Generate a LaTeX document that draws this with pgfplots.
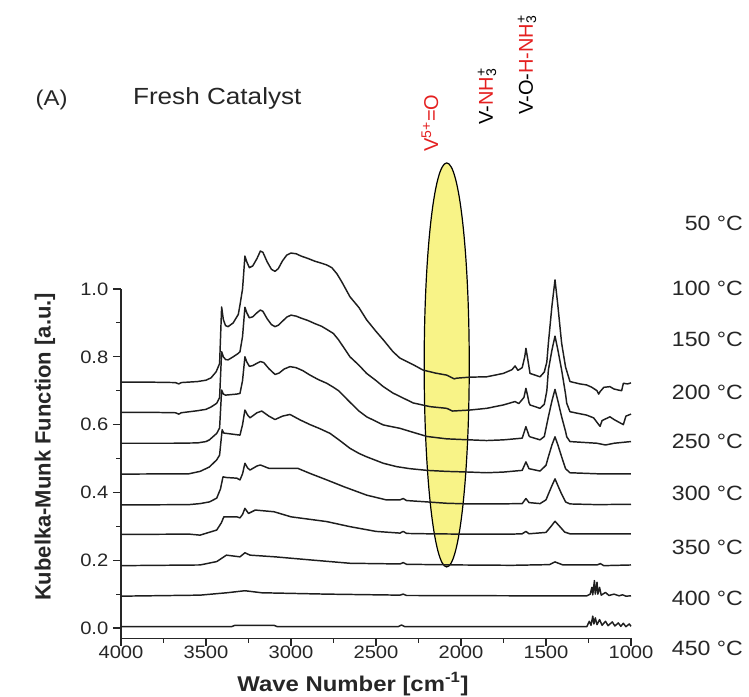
\documentclass[border=0pt]{standalone}
\usepackage{fontspec}
\setmainfont{Liberation Sans}[FakeStretch=1.12]
\newfontfamily\plainsans{Liberation Sans}
\usepackage{pgfplots}
\pgfplotsset{compat=1.18}

\definecolor{lblred}{RGB}{228,32,32}
\definecolor{bandfill}{RGB}{248,243,135}
\definecolor{spec}{RGB}{30,30,30}

\pgfplotsset{spectrum/.style={spec, line width=1.1pt, line join=round, mark=none, solid}}

\begin{document}
\begin{tikzpicture}
\useasboundingbox (-90.75pt,-43.35pt) rectangle (471pt,478.65pt);
\begin{axis}[
  at={(0,0)}, anchor=south west,
  scale only axis,
  width=382.5pt, height=261.9pt,
  xmin=1000, xmax=4000, x dir=reverse,
  ymin=-0.03, ymax=1.0,
  clip=false,
  axis x line*=bottom, axis y line*=left,
  axis line style={line width=0.8pt, black!85},
  tick align=outside,
  major tick length=6pt, minor tick length=3.5pt,
  tick style={line width=0.8pt, black!85},
  xtick={1000,1500,2000,2500,3000,3500,4000},
  minor x tick num=1,
  ytick={0,0.2,0.4,0.6,0.8,1.0},
  minor y tick num=1,
  /pgf/number format/assume math mode=true,
  xticklabel style={/pgf/number format/set thousands separator={}, yshift=3.5pt},
  yticklabel style={/pgf/number format/.cd, fixed, fixed zerofill, precision=1},
  tick label style={font=\fontsize{13.5}{15}\selectfont, text=black!85},
]

% absorption band of the vanadyl species
\draw[black, line width=0.9pt, fill=bandfill] (axis cs:2084,0.776) ellipse [x radius=16.9pt, y radius=151.5pt];

% 50 C
\addplot[spectrum] coordinates {
(4000,0.725) (3800,0.725) (3680,0.724) (3660,0.720) (3645,0.724) (3550,0.727) (3500,0.731)
(3470,0.738) (3440,0.756) (3420,0.78) (3408,0.947) (3398,0.91) (3385,0.892) (3370,0.889)
(3340,0.90) (3310,0.925) (3300,0.953) (3285,1.00) (3271,1.097) (3260,1.08) (3245,1.063)
(3225,1.068) (3200,1.09) (3180,1.112) (3165,1.108) (3140,1.08) (3115,1.058) (3094,1.052)
(3075,1.06) (3050,1.083) (3025,1.100) (3000,1.106) (2970,1.104) (2940,1.097) (2900,1.090)
(2860,1.082) (2820,1.076) (2790,1.071) (2760,1.063) (2730,1.045) (2700,1.02) (2653,0.977)
(2600,0.945) (2555,0.909) (2500,0.875) (2457,0.85) (2400,0.815) (2359,0.796) (2282,0.777)
(2224,0.761) (2150,0.752) (2084,0.746) (2060,0.740) (2040,0.735) (2025,0.737) (1947,0.740)
(1849,0.741) (1751,0.751) (1700,0.762) (1682,0.773) (1665,0.760) (1640,0.768) (1625,0.80)
(1618,0.825) (1608,0.795) (1600,0.770) (1594,0.751) (1535,0.741) (1510,0.755) (1495,0.785)
(1486,0.84) (1465,0.95) (1447,1.027) (1430,0.95) (1408,0.84) (1385,0.77) (1359,0.727)
(1300,0.72) (1261,0.717) (1230,0.71) (1200,0.70) (1190,0.69) (1182,0.697) (1160,0.71)
(1124,0.712) (1100,0.705) (1075,0.702) (1055,0.70) (1045,0.722) (1020,0.72) (1000,0.723)
};
% 100 C
\addplot[spectrum] coordinates {
(4000,0.636) (3800,0.636) (3680,0.635) (3660,0.631) (3645,0.635) (3550,0.641) (3500,0.645)
(3470,0.652) (3437,0.663) (3420,0.68) (3408,0.815) (3398,0.80) (3385,0.792) (3370,0.791)
(3340,0.80) (3310,0.81) (3300,0.815) (3285,0.86) (3271,0.946) (3260,0.93) (3245,0.915)
(3225,0.918) (3200,0.93) (3180,0.938) (3165,0.934) (3140,0.912) (3115,0.895) (3094,0.889)
(3075,0.893) (3050,0.905) (3025,0.917) (3000,0.923) (2970,0.920) (2940,0.914) (2900,0.907)
(2860,0.898) (2820,0.89) (2790,0.881) (2751,0.869) (2720,0.85) (2700,0.835) (2653,0.80)
(2600,0.775) (2555,0.751) (2500,0.73) (2457,0.712) (2400,0.693) (2359,0.683) (2282,0.664)
(2182,0.653) (2084,0.648) (2050,0.64) (1947,0.643) (1849,0.648) (1751,0.658) (1682,0.668)
(1660,0.662) (1630,0.68) (1618,0.707) (1608,0.685) (1600,0.665) (1594,0.658) (1535,0.648)
(1510,0.66) (1495,0.70) (1486,0.761) (1465,0.82) (1447,0.861) (1430,0.82) (1408,0.761)
(1385,0.69) (1378,0.663) (1359,0.638) (1261,0.628) (1220,0.62) (1190,0.60) (1182,0.595)
(1170,0.612) (1124,0.623) (1100,0.615) (1060,0.604) (1045,0.60) (1030,0.625) (1000,0.631)
};
% 150 C
\addplot[spectrum] coordinates {
(4000,0.545) (3700,0.545) (3550,0.546) (3500,0.55) (3480,0.555) (3437,0.574) (3420,0.59)
(3408,0.702) (3398,0.69) (3385,0.687) (3320,0.690) (3300,0.692) (3285,0.73) (3271,0.80)
(3260,0.785) (3245,0.772) (3225,0.774) (3200,0.781) (3180,0.786) (3160,0.783) (3130,0.765)
(3094,0.748) (3070,0.752) (3040,0.764) (3006,0.771) (2970,0.768) (2930,0.759) (2888,0.746)
(2840,0.733) (2790,0.722) (2750,0.71) (2720,0.70) (2653,0.666) (2600,0.64) (2555,0.623)
(2457,0.599) (2359,0.589) (2300,0.58) (2200,0.565) (2084,0.558) (1947,0.555) (1850,0.553)
(1751,0.555) (1640,0.56) (1618,0.594) (1600,0.567) (1594,0.564) (1535,0.555) (1510,0.565)
(1486,0.623) (1465,0.67) (1447,0.704) (1430,0.67) (1408,0.623) (1385,0.58) (1378,0.564)
(1359,0.55) (1200,0.545) (1150,0.54) (1100,0.545) (1000,0.55)
};
% 200 C
\addplot[spectrum] coordinates {
(4000,0.454) (3600,0.455) (3535,0.462) (3480,0.475) (3437,0.496) (3420,0.51) (3405,0.585)
(3395,0.575) (3378,0.574) (3300,0.569) (3285,0.60) (3271,0.643) (3255,0.628) (3241,0.62)
(3200,0.635) (3172,0.64) (3130,0.625) (3094,0.615) (3050,0.625) (3006,0.63) (2947,0.614)
(2888,0.60) (2830,0.588) (2770,0.574) (2710,0.552) (2653,0.53) (2600,0.515) (2555,0.505)
(2457,0.486) (2378,0.476) (2300,0.47) (2200,0.465) (2084,0.462) (1950,0.46) (1850,0.458)
(1751,0.46) (1640,0.465) (1618,0.49) (1600,0.47) (1535,0.463) (1500,0.48) (1486,0.505)
(1465,0.54) (1447,0.564) (1430,0.54) (1408,0.505) (1385,0.47) (1359,0.458) (1200,0.455)
(1000,0.455)
};
% 250 C
\addplot[spectrum] coordinates {
(4000,0.363) (3600,0.364) (3535,0.367) (3480,0.372) (3437,0.383) (3415,0.41) (3400,0.446)
(3380,0.444) (3319,0.442) (3300,0.437) (3285,0.455) (3271,0.486) (3255,0.472) (3241,0.466)
(3200,0.478) (3180,0.481) (3130,0.471) (3060,0.471) (2960,0.471) (2888,0.456) (2790,0.437)
(2690,0.417) (2555,0.392) (2440,0.378) (2359,0.378) (2340,0.382) (2320,0.376) (2200,0.372)
(2084,0.368) (1950,0.366) (1800,0.366) (1640,0.367) (1618,0.382) (1600,0.37) (1535,0.367)
(1500,0.378) (1486,0.395) (1465,0.42) (1447,0.44) (1430,0.42) (1408,0.395) (1385,0.372)
(1359,0.366) (1200,0.364) (1000,0.365)
};
% 300 C
\addplot[spectrum] coordinates {
(4000,0.276) (3600,0.277) (3535,0.274) (3437,0.289) (3410,0.31) (3395,0.328) (3319,0.328)
(3300,0.325) (3285,0.335) (3271,0.353) (3250,0.338) (3210,0.348) (3100,0.343) (3000,0.328)
(2790,0.314) (2653,0.299) (2500,0.285) (2359,0.28) (2340,0.285) (2320,0.279) (2200,0.278)
(2000,0.277) (1700,0.277) (1640,0.278) (1618,0.285) (1600,0.278) (1500,0.282) (1470,0.30)
(1447,0.315) (1420,0.30) (1390,0.283) (1360,0.278) (1000,0.278)
};
% 350 C
\addplot[spectrum] coordinates {
(4000,0.184) (3535,0.186) (3437,0.196) (3380,0.215) (3300,0.21) (3271,0.222) (3241,0.215)
(3094,0.21) (2888,0.201) (2653,0.191) (2359,0.189) (2340,0.193) (2320,0.188) (2000,0.186)
(1700,0.185) (1480,0.187) (1447,0.195) (1400,0.186) (1200,0.186) (1180,0.19) (1160,0.184)
(1000,0.186)
};
% 400 C
\addplot[spectrum] coordinates {
(4000,0.094) (3535,0.097) (3378,0.104) (3271,0.11) (3172,0.104) (2790,0.10) (2359,0.097)
(2340,0.10) (2320,0.096) (1600,0.095) (1260,0.095) (1240,0.10) (1230,0.12) (1225,0.098)
(1215,0.14) (1210,0.10) (1200,0.135) (1195,0.10) (1185,0.12) (1175,0.097) (1150,0.105)
(1130,0.096) (1100,0.10) (1070,0.095) (1050,0.098) (1030,0.094) (1000,0.095)
};
% 450 C
\addplot[spectrum] coordinates {
(4000,0.004) (3350,0.004) (3330,0.008) (3100,0.008) (3080,0.004) (2370,0.004) (2350,0.009)
(2330,0.004) (1260,0.004) (1245,0.02) (1235,0.008) (1225,0.035) (1218,0.012) (1210,0.03)
(1200,0.01) (1185,0.025) (1170,0.008) (1150,0.02) (1135,0.007) (1110,0.018) (1095,0.006)
(1075,0.015) (1060,0.005) (1045,0.014) (1030,0.004) (1010,0.012) (1000,0.005)
};
\end{axis}

% axis titles
\node[font=\bfseries\fontsize{16}{18}\selectfont, text=black!85] at (174pt,-34.35pt) {Wave Number [cm\textsuperscript{-1}]};
\node[font=\plainsans\bfseries\fontsize{16.5}{18}\selectfont, text=black!85, rotate=90] at (-57pt,143.4pt) {Kubelka-Munk Function [a.u.]};

% panel header
\node[font=\fontsize{16}{18}\selectfont, text=black!85] at (-52pt,403.65pt) {(A)};
\node[font=\fontsize{17.5}{20}\selectfont, text=black!85, anchor=west] at (5.5pt,405.15pt) {Fresh Catalyst};

% band assignments
\begin{scope}[font=\plainsans\fontsize{15}{18}\selectfont]
\node[rotate=90, anchor=west, inner sep=0pt, text=lblred] at (231.75pt,364.65pt) {V\textsuperscript{5+}=O};
\node[rotate=90, anchor=west, inner sep=0pt] at (274.5pt,385.1pt) {V-\textcolor{lblred}{NH}\rlap{\textsuperscript{+}}\textsubscript{3}};
\node[rotate=90, anchor=west, inner sep=0pt] at (304.5pt,392.4pt) {V-O-\textcolor{lblred}{H-NH}\rlap{\textsuperscript{+}}\textsubscript{3}};
\end{scope}

% temperatures
\begin{scope}[every node/.style={anchor=east, font=\fontsize{15.5}{18}\selectfont, text=black!85}]
\node at (470pt,311.4pt) {50 °C};
\node at (470pt,262.65pt) {100 °C};
\node at (470pt,224.4pt) {150 °C};
\node at (470pt,184.65pt) {200 °C};
\node at (470pt,147.9pt) {250 °C};
\node at (470pt,108.9pt) {300 °C};
\node at (470pt,68.4pt) {350 °C};
\node at (470pt,30.15pt) {400 °C};
\node at (470pt,-7.35pt) {450 °C};
\end{scope}
\end{tikzpicture}
\end{document}
